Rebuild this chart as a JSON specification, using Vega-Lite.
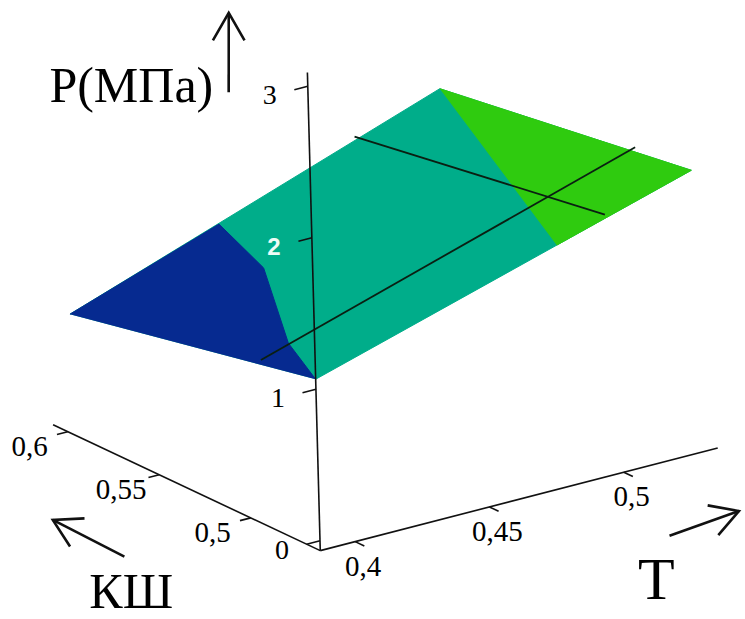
{
  "$schema": "https://vega.github.io/schema/vega-lite/v6.json",
  "width": 745,
  "height": 619,
  "autosize": {"type": "fit", "contains": "padding"},
  "padding": 0,
  "background": "white",
  "config": {"view": {"stroke": null}},
  "data": {
    "values": [
      {"kind": "surf", "id": "mid", "i": 0, "T": 0.387, "K": 0.462, "P": 1.066},
      {"kind": "surf", "id": "mid", "i": 1, "T": 0.528, "K": 0.462, "P": 1.8},
      {"kind": "surf", "id": "mid", "i": 2, "T": 0.526, "K": 0.597, "P": 1.58},
      {"kind": "surf", "id": "mid", "i": 3, "T": 0.387, "K": 0.597, "P": 0.728},
      {"kind": "surf", "id": "low", "i": 0, "T": 0.387, "K": 0.597, "P": 0.728},
      {"kind": "surf", "id": "low", "i": 1, "T": 0.443, "K": 0.597, "P": 1.066},
      {"kind": "surf", "id": "low", "i": 2, "T": 0.43, "K": 0.5535, "P": 1.084},
      {"kind": "surf", "id": "low", "i": 3, "T": 0.4, "K": 0.496, "P": 1.051},
      {"kind": "surf", "id": "low", "i": 4, "T": 0.387, "K": 0.462, "P": 1.066},
      {"kind": "surf", "id": "high", "i": 0, "T": 0.4775, "K": 0.462, "P": 1.537},
      {"kind": "surf", "id": "high", "i": 1, "T": 0.528, "K": 0.462, "P": 1.8},
      {"kind": "surf", "id": "high", "i": 2, "T": 0.526, "K": 0.597, "P": 1.58},
      {"kind": "seg", "id": "K", "T": 0.387, "K": 0.492, "P": 1.023, "T2": 0.5275, "K2": 0.492, "P2": 1.784},
      {"kind": "seg", "id": "T", "T": 0.4956, "K": 0.462, "P": 1.656, "T2": 0.494, "K2": 0.597, "P2": 1.41},
      {"kind": "axis", "id": "T", "T": 0.387, "K": 0.462, "P": -0.065, "T2": 0.535, "K2": 0.462, "P2": -0.065},
      {"kind": "axis", "id": "K", "T": 0.387, "K": 0.462, "P": -0.065, "T2": 0.387, "K2": 0.608, "P2": -0.065},
      {"kind": "axis", "id": "P", "T": 0.387, "K": 0.462, "P": -0.065, "T2": 0.387, "K2": 0.462, "P2": 3.09},
      {"kind": "tick", "axis": "T", "label": "0,4", "T": 0.4, "K": 0.462, "P": -0.065, "T2": 0.4, "K2": 0.457, "P2": -0.065},
      {"kind": "tick", "axis": "T", "label": "0,45", "T": 0.45, "K": 0.462, "P": -0.065, "T2": 0.45, "K2": 0.457, "P2": -0.065},
      {"kind": "tick", "axis": "T", "label": "0,5", "T": 0.5, "K": 0.462, "P": -0.065, "T2": 0.5, "K2": 0.457, "P2": -0.065},
      {"kind": "tick", "axis": "K", "label": "0,5", "T": 0.387, "K": 0.5, "P": -0.065, "T2": 0.383, "K2": 0.5, "P2": -0.065},
      {"kind": "tick", "axis": "K", "label": "0,55", "T": 0.387, "K": 0.55, "P": -0.065, "T2": 0.383, "K2": 0.55, "P2": -0.065},
      {"kind": "tick", "axis": "K", "label": "0,6", "T": 0.387, "K": 0.6, "P": -0.065, "T2": 0.383, "K2": 0.6, "P2": -0.065},
      {"kind": "tick", "axis": "P", "label": "0", "T": 0.387, "K": 0.462, "P": 0, "T2": 0.382, "K2": 0.462, "P2": 0},
      {"kind": "tick", "axis": "P", "label": "1", "T": 0.387, "K": 0.462, "P": 1, "T2": 0.382, "K2": 0.462, "P2": 1},
      {"kind": "tick", "axis": "P", "label": "2", "T": 0.387, "K": 0.462, "P": 2, "T2": 0.382, "K2": 0.462, "P2": 2},
      {"kind": "tick", "axis": "P", "label": "3", "T": 0.387, "K": 0.462, "P": 3, "T2": 0.382, "K2": 0.462, "P2": 3},
      {"kind": "title", "label": "Р(МПа)", "T": 0.3216, "K": 0.462, "P": 3.195},
      {"kind": "title", "label": "КШ", "T": 0.3165, "K": 0.462, "P": -0.1217},
      {"kind": "title", "label": "Т", "T": 0.5108, "K": 0.462, "P": -0.9518},
      {"kind": "arrow", "id": "P", "T": 0.3577, "K": 0.462, "P": 3.095, "T2": 0.3585, "K2": 0.462, "P2": 3.614},
      {"kind": "arrow", "id": "K", "T": 0.3145, "K": 0.462, "P": 0.2276, "T2": 0.2884, "K2": 0.462, "P2": 0.5889},
      {"kind": "arrow", "id": "T", "T": 0.5163, "K": 0.462, "P": -0.5583, "T2": 0.5422, "K2": 0.462, "P2": -0.5138}
    ]
  },
  "transform": [
    {"calculate": "2700*(datum.T-0.387)-1840*(datum.K-0.462)-4.1*(datum.P+0.065)", "as": "h"},
    {"calculate": "700*(datum.T-0.387)+870*(datum.K-0.462)+153*(datum.P+0.065)", "as": "v"},
    {"calculate": "2700*(datum.T2-0.387)-1840*(datum.K2-0.462)-4.1*(datum.P2+0.065)", "as": "h2"},
    {"calculate": "700*(datum.T2-0.387)+870*(datum.K2-0.462)+153*(datum.P2+0.065)", "as": "v2"},
    {"calculate": "atan2(datum.h2-datum.h, datum.v2-datum.v)*180/PI", "as": "ang"}
  ],
  "encoding": {
    "x": {"field": "h", "type": "quantitative", "scale": {"domain": [-322, 423], "nice": false, "zero": false}, "axis": null},
    "y": {"field": "v", "type": "quantitative", "scale": {"domain": [-63, 556], "nice": false, "zero": false}, "axis": null}
  },
  "layer": [
    {
      "transform": [{"filter": "datum.kind === 'surf' && datum.id === 'mid'"}],
      "mark": {"type": "line", "filled": true, "fill": "#00AD8A", "stroke": "#00AD8A", "strokeWidth": 1},
      "encoding": {"order": {"field": "i", "type": "quantitative"}}
    },
    {
      "transform": [{"filter": "datum.kind === 'surf' && datum.id === 'low'"}],
      "mark": {"type": "line", "filled": true, "fill": "#062A90", "stroke": "#062A90", "strokeWidth": 1},
      "encoding": {"order": {"field": "i", "type": "quantitative"}}
    },
    {
      "transform": [{"filter": "datum.kind === 'surf' && datum.id === 'high'"}],
      "mark": {"type": "line", "filled": true, "fill": "#2FCB0F", "stroke": "#2FCB0F", "strokeWidth": 1},
      "encoding": {"order": {"field": "i", "type": "quantitative"}}
    },
    {
      "transform": [{"filter": "datum.kind === 'seg'"}],
      "mark": {"type": "rule", "color": "#0a1f12", "strokeWidth": 1.8},
      "encoding": {"x2": {"field": "h2"}, "y2": {"field": "v2"}}
    },
    {
      "transform": [{"filter": "datum.kind === 'axis' || datum.kind === 'tick'"}],
      "mark": {"type": "rule", "color": "#111111", "strokeWidth": 1.6},
      "encoding": {"x2": {"field": "h2"}, "y2": {"field": "v2"}}
    },
    {
      "transform": [{"filter": "datum.kind === 'arrow'"}],
      "mark": {"type": "rule", "color": "#111111", "strokeWidth": 2.6},
      "encoding": {"x2": {"field": "h2"}, "y2": {"field": "v2"}}
    },
    {
      "transform": [{"filter": "datum.kind === 'arrow'"}],
      "mark": {"type": "point", "shape": "M-0.5,0.87L0,0L0.5,0.87", "filled": false, "color": "#111111", "strokeWidth": 2.6, "size": 4000, "opacity": 1},
      "encoding": {
        "x": {"field": "h2", "type": "quantitative", "scale": {"domain": [-322, 423], "nice": false, "zero": false}, "axis": null},
        "y": {"field": "v2", "type": "quantitative", "scale": {"domain": [-63, 556], "nice": false, "zero": false}, "axis": null},
        "angle": {"field": "ang", "type": "quantitative", "scale": null}
      }
    },
    {
      "transform": [{"filter": "datum.kind === 'tick' && datum.axis === 'T'"}],
      "mark": {"type": "text", "font": "Liberation Serif", "fontSize": 29, "dx": 8, "dy": 25, "align": "center", "baseline": "middle", "color": "black"},
      "encoding": {"text": {"field": "label"}}
    },
    {
      "transform": [{"filter": "datum.kind === 'tick' && datum.axis === 'K'"}],
      "mark": {"type": "text", "font": "Liberation Serif", "fontSize": 29, "dx": -38, "dy": 15, "align": "center", "baseline": "middle", "color": "black"},
      "encoding": {"text": {"field": "label"}}
    },
    {
      "transform": [{"filter": "datum.kind === 'tick' && datum.axis === 'P' && datum.label !== '2'"}],
      "mark": {"type": "text", "font": "Liberation Serif", "fontSize": 28, "dx": -38, "dy": 10, "align": "center", "baseline": "middle", "color": "black"},
      "encoding": {"text": {"field": "label"}}
    },
    {
      "transform": [{"filter": "datum.kind === 'tick' && datum.axis === 'P' && datum.label === '2'"}],
      "mark": {"type": "text", "font": "Liberation Sans", "fontSize": 24, "fontWeight": "bold", "dx": -38, "dy": 10, "align": "center", "baseline": "middle", "color": "#eefcf6"},
      "encoding": {"text": {"field": "label"}}
    },
    {
      "transform": [{"filter": "datum.kind === 'title'"}],
      "mark": {"type": "text", "font": "Liberation Serif", "align": "center", "baseline": "alphabetic", "color": "black"},
      "encoding": {
        "text": {"field": "label"},
        "size": {"condition": {"test": "datum.label === 'Т'", "value": 60}, "value": 50}
      }
    }
  ]
}
